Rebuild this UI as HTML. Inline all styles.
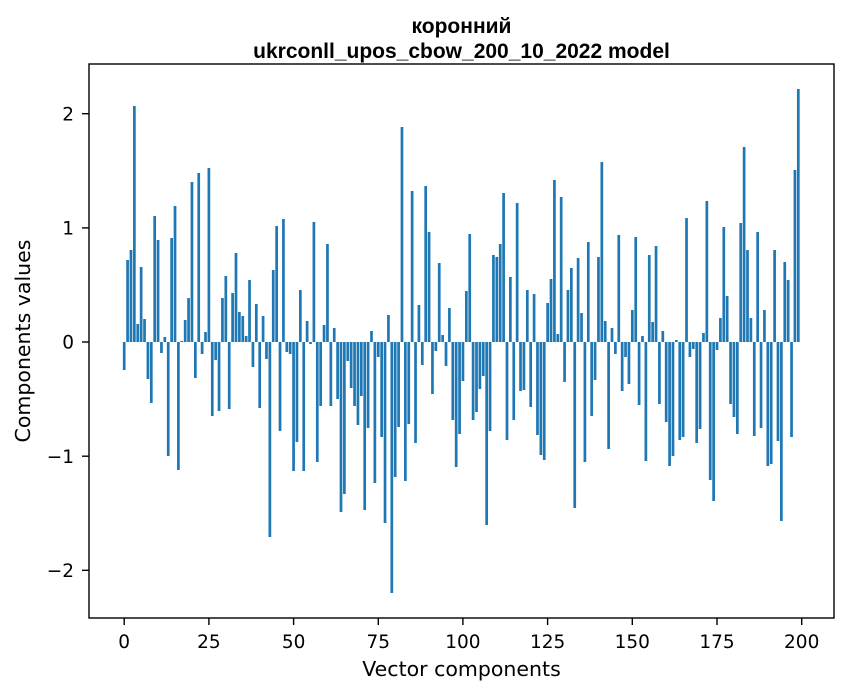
<!DOCTYPE html>
<html>
<head>
<meta charset="utf-8">
<style>
html,body{margin:0;padding:0;background:#fff;}
svg{display:block;}
</style>
</head>
<body>
<svg width="847" height="696" viewBox="0 0 847 696" xmlns="http://www.w3.org/2000/svg">
<rect x="0" y="0" width="847" height="696" fill="#ffffff"/>
<g transform="translate(124.2,342) scale(3.3875,1)" fill="#1f77b4">
<path d="M-.4 0h.8v28h-.8zM.6 0h.8v-82h-.8zM1.6 0h.8v-92h-.8zM2.6 0h.8v-236h-.8zM3.6 0h.8v-18h-.8zM4.6 0h.8v-75h-.8zM5.6 0h.8v-23h-.8zM6.6 0h.8v37h-.8zM7.6 0h.8v61h-.8zM8.6 0h.8v-126h-.8zM9.6 0h.8v-102h-.8zM10.6 0h.8v11h-.8zM11.6 0h.8v-5h-.8zM12.6 0h.8v114h-.8zM13.6 0h.8v-104h-.8zM14.6 0h.8v-136h-.8zM15.6 0h.8v128h-.8zM16.6 0h.8v-1h-.8zM17.6 0h.8v-22h-.8zM18.6 0h.8v-44h-.8zM19.6 0h.8v-160h-.8zM20.6 0h.8v36h-.8zM21.6 0h.8v-169h-.8zM22.6 0h.8v12h-.8zM23.6 0h.8v-10h-.8zM24.6 0h.8v-174h-.8zM25.6 0h.8v74h-.8zM26.6 0h.8v18h-.8zM27.6 0h.8v69h-.8zM28.6 0h.8v-44h-.8zM29.6 0h.8v-66h-.8zM30.6 0h.8v67h-.8zM31.6 0h.8v-49h-.8zM32.6 0h.8v-89h-.8zM33.6 0h.8v-30h-.8zM34.6 0h.8v-26h-.8zM35.6 0h.8v-6h-.8zM36.6 0h.8v-62h-.8zM37.6 0h.8v25h-.8zM38.6 0h.8v-38h-.8zM39.6 0h.8v66h-.8zM40.6 0h.8v-26h-.8zM41.6 0h.8v17h-.8zM42.6 0h.8v195h-.8zM43.6 0h.8v-72h-.8zM44.6 0h.8v-116h-.8zM45.6 0h.8v89h-.8zM46.6 0h.8v-123h-.8zM47.6 0h.8v10h-.8zM48.6 0h.8v12h-.8zM49.6 0h.8v129h-.8zM50.6 0h.8v100h-.8zM51.6 0h.8v-52h-.8zM52.6 0h.8v129h-.8zM53.6 0h.8v-21h-.8zM54.6 0h.8v2h-.8zM55.6 0h.8v-120h-.8zM56.6 0h.8v120h-.8zM57.6 0h.8v64h-.8zM58.6 0h.8v-17h-.8zM59.6 0h.8v-98h-.8zM60.6 0h.8v64h-.8zM61.6 0h.8v-14h-.8zM62.6 0h.8v57h-.8zM63.6 0h.8v170h-.8zM64.6 0h.8v152h-.8zM65.6 0h.8v19h-.8zM66.6 0h.8v46h-.8zM67.6 0h.8v64h-.8zM68.6 0h.8v83h-.8zM69.6 0h.8v54h-.8zM70.6 0h.8v168h-.8zM71.6 0h.8v86h-.8zM72.6 0h.8v-11h-.8zM73.6 0h.8v141h-.8zM74.6 0h.8v15h-.8zM75.6 0h.8v95h-.8zM76.6 0h.8v181h-.8zM77.6 0h.8v-27h-.8zM78.6 0h.8v251h-.8zM79.6 0h.8v135h-.8zM80.6 0h.8v85h-.8zM81.6 0h.8v-215h-.8zM82.6 0h.8v139h-.8zM83.6 0h.8v82h-.8zM84.6 0h.8v-151h-.8zM85.6 0h.8v101h-.8zM86.6 0h.8v-37h-.8zM87.6 0h.8v23h-.8zM88.6 0h.8v-156h-.8zM89.6 0h.8v-110h-.8zM90.6 0h.8v52h-.8zM91.6 0h.8v9h-.8zM92.6 0h.8v-79h-.8zM93.6 0h.8v-7h-.8zM94.6 0h.8v24h-.8zM95.6 0h.8v-34h-.8zM96.6 0h.8v78h-.8zM97.6 0h.8v125h-.8zM98.6 0h.8v92h-.8zM99.6 0h.8v39h-.8zM100.6 0h.8v-51h-.8zM101.6 0h.8v-108h-.8zM102.6 0h.8v78h-.8zM103.6 0h.8v70h-.8zM104.6 0h.8v47h-.8zM105.6 0h.8v34h-.8zM106.6 0h.8v183h-.8zM107.6 0h.8v89h-.8zM108.6 0h.8v-87h-.8zM109.6 0h.8v-85h-.8zM110.6 0h.8v-98h-.8zM111.6 0h.8v-149h-.8zM112.6 0h.8v98h-.8zM113.6 0h.8v-65h-.8zM114.6 0h.8v78h-.8zM115.6 0h.8v-139h-.8zM116.6 0h.8v49h-.8zM117.6 0h.8v48h-.8zM118.6 0h.8v-52h-.8zM119.6 0h.8v65h-.8zM120.6 0h.8v-48h-.8zM121.6 0h.8v93h-.8zM122.6 0h.8v113h-.8zM123.6 0h.8v118h-.8zM124.6 0h.8v-39h-.8zM125.6 0h.8v-63h-.8zM126.6 0h.8v-162h-.8zM127.6 0h.8v-8h-.8zM128.6 0h.8v-145h-.8zM129.6 0h.8v40h-.8zM130.6 0h.8v-52h-.8zM131.6 0h.8v-74h-.8zM132.6 0h.8v166h-.8zM133.6 0h.8v-84h-.8zM134.6 0h.8v-29h-.8zM135.6 0h.8v120h-.8zM136.6 0h.8v-100h-.8zM137.6 0h.8v74h-.8zM138.6 0h.8v38h-.8zM139.6 0h.8v-85h-.8zM140.6 0h.8v-180h-.8zM141.6 0h.8v-21h-.8zM142.6 0h.8v107h-.8zM143.6 0h.8v-14h-.8zM144.6 0h.8v12h-.8zM145.6 0h.8v-107h-.8zM146.6 0h.8v49h-.8zM147.6 0h.8v15h-.8zM148.6 0h.8v42h-.8zM149.6 0h.8v-32h-.8zM150.6 0h.8v-105h-.8zM151.6 0h.8v63h-.8zM152.6 0h.8v-6h-.8zM153.6 0h.8v119h-.8zM154.6 0h.8v-87h-.8zM155.6 0h.8v-20h-.8zM156.6 0h.8v-96h-.8zM157.6 0h.8v62h-.8zM158.6 0h.8v-11h-.8zM159.6 0h.8v80h-.8zM160.6 0h.8v124h-.8zM161.6 0h.8v114h-.8zM162.6 0h.8v-2h-.8zM163.6 0h.8v98h-.8zM164.6 0h.8v95h-.8zM165.6 0h.8v-124h-.8zM166.6 0h.8v15h-.8zM167.6 0h.8v7h-.8zM168.6 0h.8v101h-.8zM169.6 0h.8v87h-.8zM170.6 0h.8v-9h-.8zM171.6 0h.8v-141h-.8zM172.6 0h.8v138h-.8zM173.6 0h.8v159h-.8zM174.6 0h.8v8h-.8zM175.6 0h.8v-24h-.8zM176.6 0h.8v-115h-.8zM177.6 0h.8v-46h-.8zM178.6 0h.8v62h-.8zM179.6 0h.8v75h-.8zM180.6 0h.8v92h-.8zM181.6 0h.8v-119h-.8zM182.6 0h.8v-195h-.8zM183.6 0h.8v-92h-.8zM184.6 0h.8v-24h-.8zM185.6 0h.8v94h-.8zM186.6 0h.8v-110h-.8zM187.6 0h.8v86h-.8zM188.6 0h.8v-32h-.8zM189.6 0h.8v124h-.8zM190.6 0h.8v122h-.8zM191.6 0h.8v-92h-.8zM192.6 0h.8v99h-.8zM193.6 0h.8v179h-.8zM194.6 0h.8v-80h-.8zM195.6 0h.8v-62h-.8zM196.6 0h.8v95h-.8zM197.6 0h.8v-172h-.8zM198.6 0h.8v-253h-.8z"/>
</g>
<!-- spines -->
<rect x="89" y="64" width="745" height="554" fill="none" stroke="#000" stroke-width="1.4"/>
<!-- x ticks -->
<g stroke="#000" stroke-width="1.4">
<line x1="124.2" y1="618" x2="124.2" y2="625"/>
<line x1="208.9" y1="618" x2="208.9" y2="625"/>
<line x1="293.6" y1="618" x2="293.6" y2="625"/>
<line x1="378.3" y1="618" x2="378.3" y2="625"/>
<line x1="462.9" y1="618" x2="462.9" y2="625"/>
<line x1="547.6" y1="618" x2="547.6" y2="625"/>
<line x1="632.3" y1="618" x2="632.3" y2="625"/>
<line x1="717.0" y1="618" x2="717.0" y2="625"/>
<line x1="801.7" y1="618" x2="801.7" y2="625"/>
<line x1="82" y1="113.7" x2="89" y2="113.7"/>
<line x1="82" y1="227.9" x2="89" y2="227.9"/>
<line x1="82" y1="342" x2="89" y2="342"/>
<line x1="82" y1="456.2" x2="89" y2="456.2"/>
<line x1="82" y1="570.3" x2="89" y2="570.3"/>
</g>
<g font-family="DejaVu Sans, 'Liberation Sans', sans-serif" font-size="18.5" fill="#000" text-anchor="middle">
<text x="124.2" y="648">0</text>
<text x="208.9" y="648">25</text>
<text x="293.6" y="648">50</text>
<text x="378.3" y="648">75</text>
<text x="462.9" y="648">100</text>
<text x="547.6" y="648">125</text>
<text x="632.3" y="648">150</text>
<text x="717.0" y="648">175</text>
<text x="801.7" y="648">200</text>
</g>
<g font-family="DejaVu Sans, 'Liberation Sans', sans-serif" font-size="18.5" fill="#000" text-anchor="end">
<text x="74" y="120.4">2</text>
<text x="74" y="234.6">1</text>
<text x="74" y="348.7">0</text>
<text x="74" y="462.9">−1</text>
<text x="74" y="577">−2</text>
</g>
<text x="461.5" y="676" font-family="DejaVu Sans, 'Liberation Sans', sans-serif" font-size="20.5" fill="#000" text-anchor="middle">Vector components</text>
<text transform="translate(30,341) rotate(-90)" font-family="DejaVu Sans, 'Liberation Sans', sans-serif" font-size="20.5" fill="#000" text-anchor="middle">Components values</text>
<g font-family="'Liberation Sans', 'Noto Sans CJK SC', sans-serif" font-weight="bold" font-size="21" fill="#000" text-anchor="middle">
<text x="461.5" y="33">коронний</text>
<text x="461.5" y="58">ukrconll_upos_cbow_200_10_2022 model</text>
</g>
</svg>
</body>
</html>
